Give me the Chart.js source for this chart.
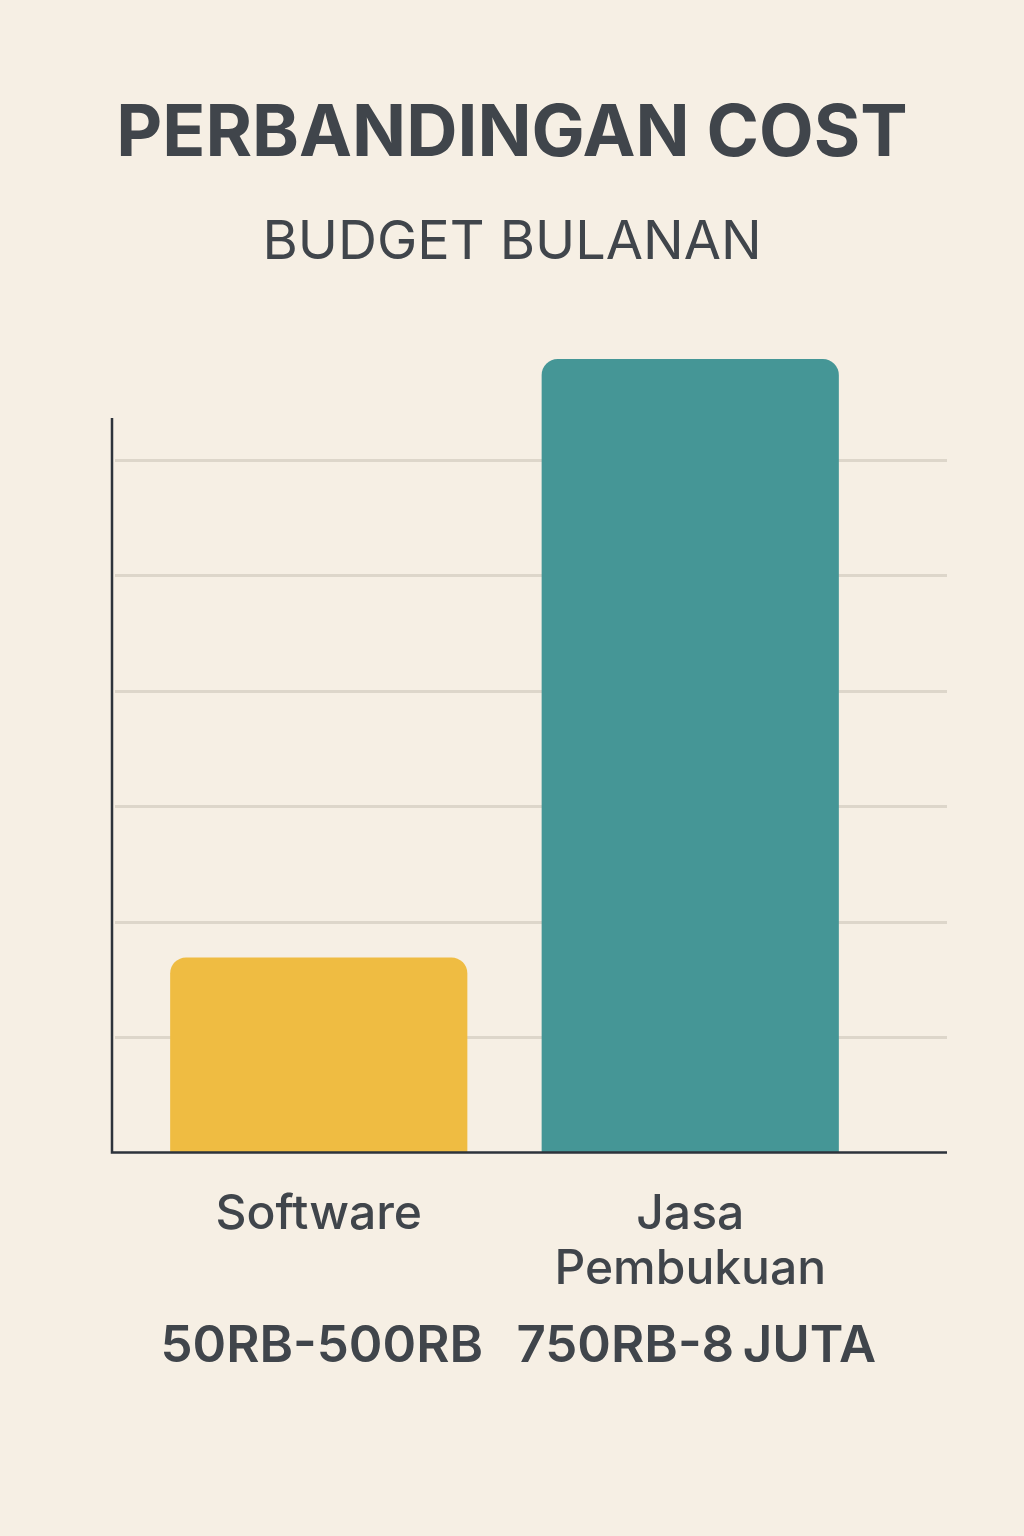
<!DOCTYPE html>
<html>
<head>
<meta charset="utf-8">
<script src="https://cdn.jsdelivr.net/npm/chart.js@4"></script>
<style>
  html, body { margin: 0; padding: 0; background: #f6efe4; }
  #wrap { width: 1024px; height: 1536px; }
</style>
</head>
<body>
<div id="wrap"><canvas id="cost-chart" width="1024" height="1536"></canvas></div>
<script>
const categories = [["Software"], ["Jasa", "Pembukuan"]];
const budgetValues = [1.69, 6.87];
const rangeLabels = ["50RB-500RB", "750RB-8\u2009JUTA"];
const barColors = ["#efbc42", "#459696"];

const TEXT = "#40454b";
const FONT = "Inter";

const axesPlugin = {
  id: "axes_plugin",
  beforeDatasetsDraw: (chart) => {
    const { ctx, chartArea, scales } = chart;
    const left = chartArea.left - 21;
    const right = chartArea.right + 71;
    ctx.save();
    ctx.strokeStyle = "#ddd6ca";
    ctx.lineWidth = 3;
    scales.y.ticks.forEach((t) => {
      if (t.value <= 0 || t.value > 6) return;
      const y = Math.round(scales.y.getPixelForValue(t.value)) + 0.5;
      ctx.beginPath();
      ctx.moveTo(left + 3, y);
      ctx.lineTo(right, y);
      ctx.stroke();
    });
    ctx.restore();
  },
  afterDatasetsDraw: (chart) => {
    const { ctx, chartArea, scales } = chart;
    const left = chartArea.left - 21;
    const right = chartArea.right + 71;
    const base = scales.y.getPixelForValue(0);
    ctx.save();
    ctx.strokeStyle = "#2d333b";
    ctx.lineWidth = 2.5;
    ctx.beginPath();
    ctx.moveTo(left, scales.y.getPixelForValue(6.36));
    ctx.lineTo(left, base);
    ctx.lineTo(right, base);
    ctx.stroke();

    ctx.fillStyle = TEXT;
    ctx.font = "600 51px " + FONT;
    ctx.textAlign = "center";
    ctx.textBaseline = "middle";
    rangeLabels.forEach((label, i) => {
      const x = scales.x.getPixelForValue(i);
      ctx.fillText(label, x + (i === 0 ? 3 : 6), base + 194);
    });
    ctx.restore();
  },
};

const data = {
  labels: categories,
  datasets: [
    {
      label: "Budget bulanan",
      data: budgetValues,
      backgroundColor: barColors,
      borderRadius: { topLeft: 16, topRight: 16 },
      borderSkipped: "bottom",
      barPercentage: 0.8,
      categoryPercentage: 1,
    },
  ],
};

const config = {
  type: "bar",
  data: data,
  plugins: [axesPlugin],
  options: {
    responsive: false,
    animation: false,
    layout: { padding: { left: 0, right: 0, top: 0, bottom: 213 } },
    plugins: {
      legend: { display: false },
      tooltip: { enabled: false },
      title: {
        display: true,
        text: "PERBANDINGAN COST",
        color: TEXT,
        font: { family: FONT, size: 71, weight: "bold" },
        padding: { top: 92, bottom: 33 },
      },
      subtitle: {
        display: true,
        text: "BUDGET BULANAN",
        color: TEXT,
        font: { family: FONT, size: 54, weight: "normal" },
        padding: { top: 0, bottom: 69 },
      },
    },
    scales: {
      x: {
        grid: { display: false },
        border: { display: false },
        ticks: {
          color: TEXT,
          font: { family: FONT, size: 48, weight: "500", lineHeight: 1.15 },
          padding: 26,
          maxRotation: 0,
        },
      },
      y: {
        min: 0,
        max: 7,
        grid: { display: false },
        border: { display: false },
        ticks: { display: false, stepSize: 1 },
        afterFit: (scale) => {
          scale.width = 133;
        },
      },
      yRight: {
        position: "right",
        grid: { display: false },
        border: { display: false },
        ticks: { display: false },
        afterFit: (scale) => {
          scale.width = 148;
        },
      },
    },
  },
};

new Chart(document.getElementById("cost-chart"), config);
</script>
</body>
</html>
